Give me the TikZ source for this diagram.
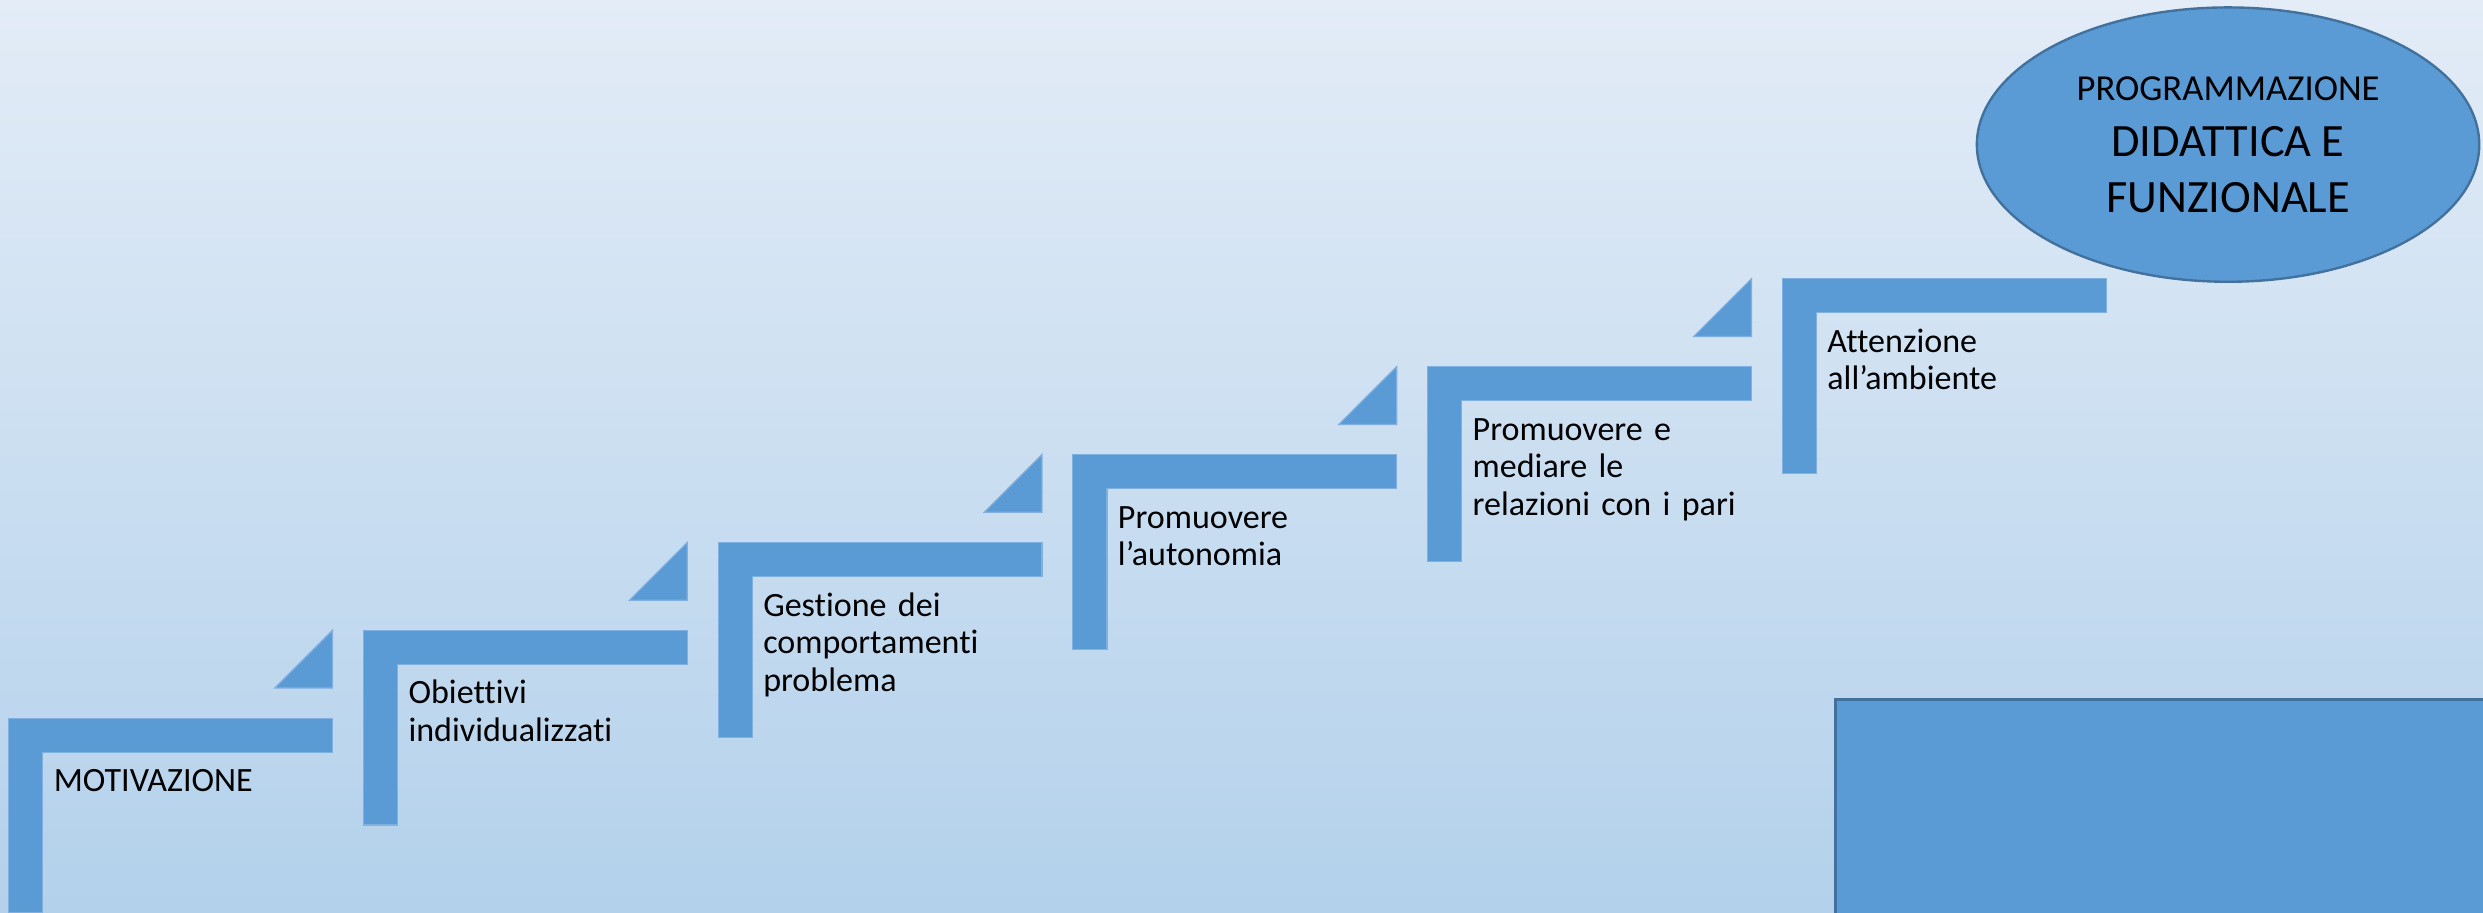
\documentclass[tikz,border=0pt]{standalone}
\usepackage{fontspec}
\setmainfont[Ligatures={NoCommon}]{Carlito}
\usetikzlibrary{shapes.geometric}
\definecolor{bgtop}{RGB}{227,236,247}
\definecolor{bgbottom}{RGB}{179,209,235}

\begin{document}
\begin{tikzpicture}[x=0.4pt,y=0.4pt,yscale=-1,xscale=1,
        stepshape/.style={fill={rgb, 255:red, 91; green, 155; blue, 213 }, draw={rgb, 255:red, 128; green, 176; blue, 224 }, line width=0.3pt},
        steplabel/.style={anchor=base west, inner sep=0pt, text width=90pt, align=left, font=\fontsize{8.6}{9.5}\selectfont},
        goalshape/.style={fill={rgb, 255:red, 91; green, 155; blue, 213 }, draw={rgb, 255:red, 65; green, 113; blue, 156 }, line width=0.6pt}]
        \useasboundingbox (0,0) rectangle (1568,576);

        %Background gradient
        \shade [top color=bgtop, bottom color=bgbottom] (0,0) rectangle (1568,576);

        %Shape: Step 1
        \draw [stepshape] (5.5,453.5) -- (210,453.5) -- (210,475) -- (27,475) -- (27,576.5) -- (5.5,576.5) -- cycle ;
        \draw [stepshape] (210,398) -- (210,434.5) -- (173.5,434.5) -- cycle ;
        %Shape: Step 2
        \draw [stepshape] (229.5,398) -- (434,398) -- (434,419.5) -- (251,419.5) -- (251,521) -- (229.5,521) -- cycle ;
        \draw [stepshape] (434,342.5) -- (434,379) -- (397.5,379) -- cycle ;
        %Shape: Step 3
        \draw [stepshape] (453.5,342.5) -- (658,342.5) -- (658,364) -- (475,364) -- (475,465.5) -- (453.5,465.5) -- cycle ;
        \draw [stepshape] (658,287) -- (658,323.5) -- (621.5,323.5) -- cycle ;
        %Shape: Step 4
        \draw [stepshape] (677.5,287) -- (882,287) -- (882,308.5) -- (699,308.5) -- (699,410) -- (677.5,410) -- cycle ;
        \draw [stepshape] (882,231.5) -- (882,268) -- (845.5,268) -- cycle ;
        %Shape: Step 5
        \draw [stepshape] (901.5,231.5) -- (1106,231.5) -- (1106,253) -- (923,253) -- (923,354.5) -- (901.5,354.5) -- cycle ;
        \draw [stepshape] (1106,176) -- (1106,212.5) -- (1069.5,212.5) -- cycle ;
        %Shape: Step 6
        \draw [stepshape] (1125.5,176) -- (1330,176) -- (1330,197.5) -- (1147,197.5) -- (1147,299) -- (1125.5,299) -- cycle ;

        %Shape: Rectangle
        \draw [goalshape, line width=0.7pt] (1159,441.5) rectangle (1580,590) ;
        %Shape: Ellipse
        \node [goalshape, ellipse, inner sep=0pt, minimum width=126.9pt, minimum height=69.3pt, align=center,
            font=\fontsize{11.7}{14.2}\selectfont] (prog) at (1407,91.3)
            {{\fontsize{9.25}{14.2}\selectfont PROGRAMMAZIONE}\\DIDATTICA E\\FUNZIONALE};

        % Text Node
        \node [steplabel] (motiv) at (33.5,500) {MOTIVAZIONE};
        % Text Node
        \node [steplabel] (obiet) at (257.5,444.5) {Obiettivi\\individualizzati};
        % Text Node
        \node [steplabel] (gest) at (481.5,389) {Gestione dei\\comportamenti\\problema};
        % Text Node
        \node [steplabel] (auton) at (705.5,333.5) {Promuovere\\l’autonomia};
        % Text Node
        \node [steplabel] (relaz) at (929.5,278) {Promuovere e\\mediare le\\relazioni con i pari};
        % Text Node
        \node [steplabel] (ambie) at (1153.5,222.5) {Attenzione\\all’ambiente};

\end{tikzpicture}
\end{document}
